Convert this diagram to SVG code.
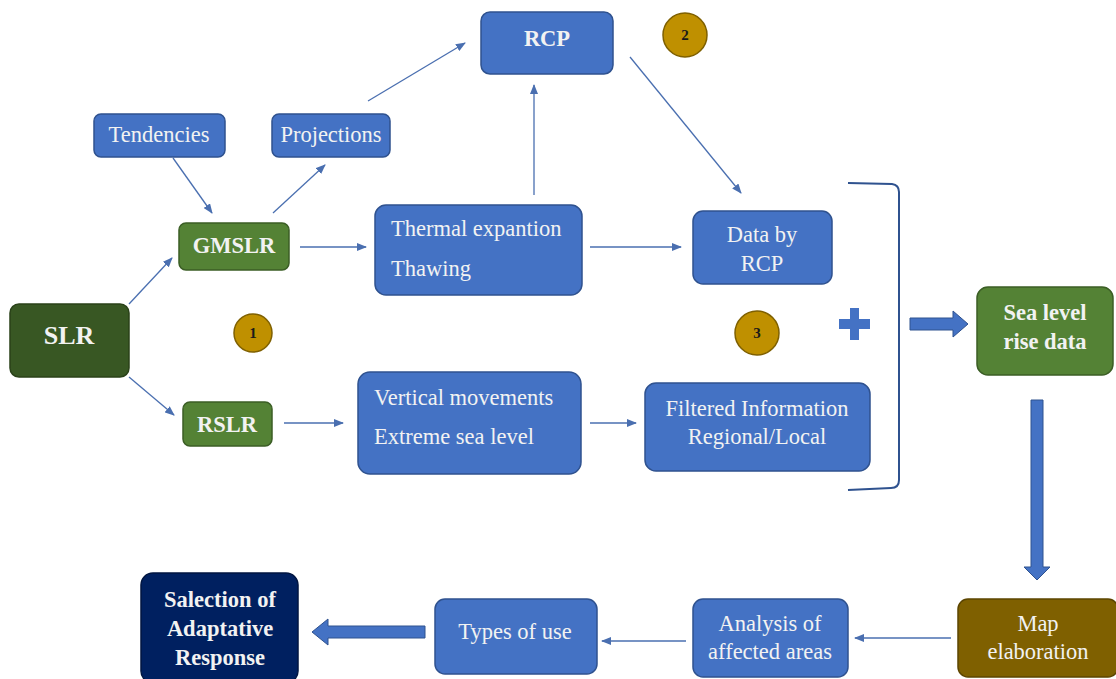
<svg xmlns="http://www.w3.org/2000/svg" width="1116" height="679" viewBox="0 0 1116 679">
<defs>
<style>
.blue{fill:#4472C4;stroke:#2F528F;stroke-width:1.5}
.green{fill:#548235;stroke:#3B5E25;stroke-width:1.5}
.dgreen{fill:#385723;stroke:#2A4219;stroke-width:1.5}
.brown{fill:#7F6000;stroke:#5C4500;stroke-width:1.5}
.navy{fill:#002060;stroke:#001540;stroke-width:1.5}
.t{font-family:"Liberation Serif","Times New Roman",serif;font-size:22.5px;fill:#F2F2F2}
.b{font-weight:bold}
.c{text-anchor:middle}
.num{fill:#BF9000;stroke:#7F6000;stroke-width:1.5}
.nt{font-family:"Liberation Serif","Times New Roman",serif;font-size:15px;font-weight:bold;fill:#1a1a1a;text-anchor:middle}
.ln{stroke:#4A6FB0;stroke-width:1.3;fill:none;marker-end:url(#ah)}
.blk{fill:#4472C4;stroke:#2F528F;stroke-width:1}
</style>
<marker id="ah" markerWidth="10" markerHeight="8" refX="9" refY="4" orient="auto" markerUnits="userSpaceOnUse">
<path d="M0,0 L10,4 L0,8 Z" fill="#4A6FB0"/>
</marker>
</defs>
<rect width="1116" height="679" fill="#FFFFFF"/>

<g id="connectors">
<line class="ln" x1="129" y1="304" x2="172" y2="258"/>
<line class="ln" x1="129" y1="377" x2="174" y2="415"/>
<line class="ln" x1="173" y1="158" x2="212" y2="213"/>
<line class="ln" x1="273" y1="213" x2="325" y2="165"/>
<line class="ln" x1="368" y1="101" x2="465" y2="43"/>
<line class="ln" x1="300" y1="247" x2="366" y2="247"/>
<line class="ln" x1="534" y1="195" x2="534" y2="85"/>
<line class="ln" x1="630" y1="57" x2="741" y2="193"/>
<line class="ln" x1="590" y1="247" x2="681" y2="247"/>
<line class="ln" x1="284" y1="423" x2="343" y2="423"/>
<line class="ln" x1="590" y1="423" x2="636" y2="423"/>
<line class="ln" x1="951" y1="638" x2="855" y2="638"/>
<line class="ln" x1="686" y1="641" x2="602" y2="641"/>
<path d="M848,183 L892,184 Q899,185 899,192 L899,480 Q899,488 891,488 L848,490" fill="none" stroke="#2F528F" stroke-width="2"/>
<path class="blk" d="M910,318 L953,318 L953,311 L968,324 L953,337 L953,330 L910,330 Z"/>
<path class="blk" d="M1031,400 L1043,400 L1043,567 L1050,567 L1037,580 L1024,567 L1031,567 Z"/>
<path class="blk" d="M425,626 L328,626 L328,619 L312,632 L328,645 L328,638 L425,638 Z"/>
</g>

<g id="plus">
<path d="M850,308 L859,308 L859,319 L870,319 L870,329 L859,329 L859,340 L850,340 L850,329 L839,329 L839,319 L850,319 Z" fill="#4472C4"/>
</g>

<g id="n-tendencies"><rect class="blue" x="94" y="114" width="131" height="43" rx="7"/><text class="t c" x="159" y="142">Tendencies</text></g>
<g id="n-projections"><rect class="blue" x="272" y="114" width="118" height="43" rx="7"/><text class="t c" x="331" y="142">Projections</text></g>
<g id="n-gmslr"><rect class="green" x="179" y="223" width="110" height="47" rx="7"/><text class="t b c" x="234" y="253">GMSLR</text></g>
<g id="n-slr"><rect class="dgreen" x="10" y="304" width="119" height="73" rx="9"/><text class="t b c" x="69" y="344" style="font-size:26px">SLR</text></g>
<g id="n-rslr"><rect class="green" x="183" y="402" width="89" height="44" rx="7"/><text class="t b c" x="227" y="432">RSLR</text></g>
<g id="n-rcp"><rect class="blue" x="481" y="12" width="132" height="62" rx="9"/><text class="t b c" x="547" y="46">RCP</text></g>
<g id="n-thermal"><rect class="blue" x="375" y="205" width="207" height="90" rx="11"/><text class="t" x="391" y="236">Thermal expantion</text><text class="t" x="391" y="276">Thawing</text></g>
<g id="n-databyrcp"><rect class="blue" x="693" y="211" width="139" height="73" rx="10"/><text class="t c" x="762" y="242">Data by</text><text class="t c" x="762" y="271">RCP</text></g>
<g id="n-vertical"><rect class="blue" x="358" y="372" width="223" height="102" rx="12"/><text class="t" x="374" y="405">Vertical movements</text><text class="t" x="374" y="444">Extreme sea level</text></g>
<g id="n-filtered"><rect class="blue" x="645" y="383" width="225" height="88" rx="11"/><text class="t c" x="757" y="416">Filtered Information</text><text class="t c" x="757" y="444">Regional/Local</text></g>
<g id="n-sealevel"><rect class="green" x="977" y="287" width="136" height="88" rx="11"/><text class="t b c" x="1045" y="320">Sea level</text><text class="t b c" x="1045" y="349">rise data</text></g>
<g id="n-map"><rect class="brown" x="958" y="599" width="160" height="78" rx="10"/><text class="t c" x="1038" y="631">Map</text><text class="t c" x="1038" y="659">elaboration</text></g>
<g id="n-analysis"><rect class="blue" x="693" y="599" width="155" height="78" rx="10"/><text class="t c" x="770" y="631">Analysis of</text><text class="t c" x="770" y="659">affected areas</text></g>
<g id="n-types"><rect class="blue" x="435" y="599" width="162" height="75" rx="10"/><text class="t c" x="515" y="639">Types of use</text></g>
<g id="n-salection"><rect class="navy" x="141" y="573" width="157" height="110" rx="12"/><text class="t b c" x="220" y="607">Salection of</text><text class="t b c" x="220" y="636">Adaptative</text><text class="t b c" x="220" y="665">Response</text></g>

<g id="badge-1"><circle class="num" cx="253" cy="333" r="19"/><text class="nt" x="253" y="338">1</text></g>
<g id="badge-2"><circle class="num" cx="685" cy="35" r="22"/><text class="nt" x="685" y="40">2</text></g>
<g id="badge-3"><circle class="num" cx="757" cy="333" r="22"/><text class="nt" x="757" y="338">3</text></g>
</svg>
